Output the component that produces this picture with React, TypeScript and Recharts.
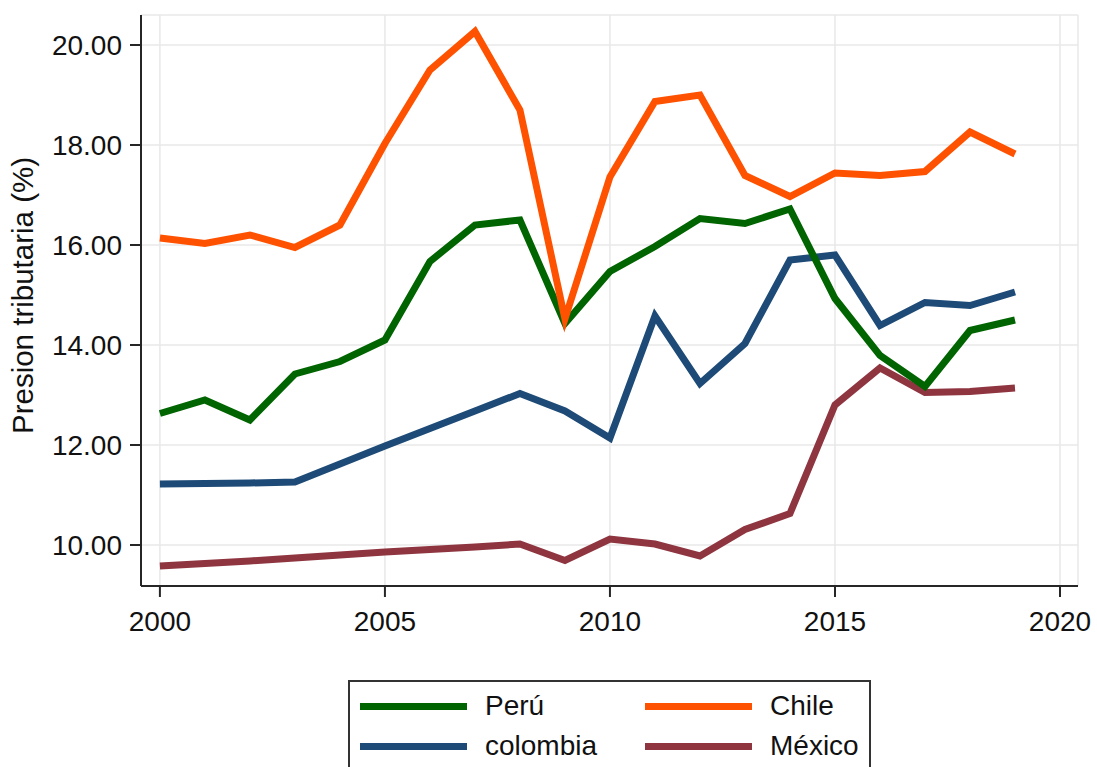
import { LineChart, Line, XAxis, YAxis, CartesianGrid, Legend, Label } from 'recharts';

// Tax burden (% of GDP), 2000-2019
const years = [2000, 2001, 2002, 2003, 2004, 2005, 2006, 2007, 2008, 2009, 2010, 2011, 2012, 2013, 2014, 2015, 2016, 2017, 2018, 2019];
const peru = [12.63, 12.9, 12.5, 13.42, 13.67, 14.1, 15.67, 16.4, 16.5, 14.43, 15.47, 15.97, 16.53, 16.43, 16.72, 14.93, 13.79, 13.17, 14.29, 14.5];
const chile = [16.14, 16.03, 16.2, 15.95, 16.4, 18.03, 19.5, 20.27, 18.7, 14.52, 17.36, 18.87, 19.0, 17.39, 16.97, 17.44, 17.39, 17.47, 18.26, 17.82];
const colombia = [11.22, 11.23, 11.24, 11.26, 11.62, 11.98, 12.33, 12.68, 13.03, 12.68, 12.14, 14.58, 13.23, 14.03, 15.7, 15.8, 14.39, 14.85, 14.79, 15.06];
const mexico = [9.58, 9.63, 9.68, 9.74, 9.8, 9.86, 9.91, 9.96, 10.02, 9.69, 10.12, 10.02, 9.78, 10.31, 10.63, 12.8, 13.54, 13.05, 13.07, 13.14];

const xTicks = [2000, 2005, 2010, 2015, 2020];
const yTicks = [10, 12, 14, 16, 18, 20];

const series = [
    { key: 'peru', name: 'Perú', color: '#006400' },
    { key: 'chile', name: 'Chile', color: '#ff5200' },
    { key: 'colombia', name: 'colombia', color: '#1d4a76' },
    { key: 'mexico', name: 'México', color: '#8e3540' },
];

// later entries are painted on top
const drawOrder = ['colombia', 'mexico', 'peru', 'chile'];

const chartData = years.map((year, i) => ({
    year,
    peru: peru[i],
    chile: chile[i],
    colombia: colombia[i],
    mexico: mexico[i],
}));

const FONT = '"Liberation Sans", Arial, Helvetica, sans-serif';
const AXIS = '#262626';

function YTitle({ viewBox }: any) {
    const cy = viewBox.y + viewBox.height / 2 - 5;
    return (
        <text
            x={33}
            y={cy}
            transform={`rotate(-90, 33, ${cy})`}
            textAnchor="middle"
            fontSize={29.5}
            fill="#111"
            fontFamily={FONT}
        >
            Presion tributaria (%)
        </text>
    );
}

function LegendBox() {
    return (
        <div
            style={{
                position: 'relative',
                width: 523,
                height: 100,
                border: '2px solid #333',
                boxSizing: 'border-box',
                background: '#fff',
                fontFamily: FONT,
                fontSize: 28,
                color: '#111',
            }}
        >
            {series.map((s, i) => {
                const col = i % 2;
                const row = Math.floor(i / 2);
                return (
                    <div
                        key={s.key}
                        style={{
                            position: 'absolute',
                            left: 10 + col * 285,
                            top: 24 + row * 40 - 19,
                            height: 38,
                            display: 'flex',
                            alignItems: 'center',
                            whiteSpace: 'nowrap',
                        }}
                    >
                        <div style={{ width: 107, height: 7, background: s.color }} />
                        <span style={{ marginLeft: 18, lineHeight: '38px' }}>{s.name}</span>
                    </div>
                );
            })}
        </div>
    );
}

export default function App() {
    return (
        <div style={{ position: 'absolute', left: 0, top: 0, background: '#fff' }}>
            <LineChart
                width={1097}
                height={767}
                data={chartData}
                margin={{ top: 15, right: 19, bottom: 121, left: 0 }}
                style={{ fontFamily: FONT }}
            >
                <CartesianGrid stroke="#e8e8e8" strokeWidth={1.5} />
                <XAxis
                    dataKey="year"
                    type="number"
                    domain={[1999.58, 2020.4]}
                    ticks={xTicks}
                    allowDataOverflow
                    height={60}
                    tickSize={11}
                    tickMargin={14}
                    axisLine={{ stroke: AXIS, strokeWidth: 2 }}
                    tickLine={{ stroke: AXIS, strokeWidth: 2 }}
                    tick={{ fontSize: 28, fill: '#111', fontFamily: FONT }}
                />
                <YAxis
                    type="number"
                    domain={[9.18, 20.6]}
                    ticks={yTicks}
                    allowDataOverflow
                    width={141}
                    tickSize={11}
                    tickMargin={8}
                    tickFormatter={(v: number) => v.toFixed(2)}
                    axisLine={{ stroke: AXIS, strokeWidth: 2 }}
                    tickLine={{ stroke: AXIS, strokeWidth: 2 }}
                    tick={{ fontSize: 28, fill: '#111', fontFamily: FONT }}
                >
                    <Label content={<YTitle />} />
                </YAxis>
                {drawOrder.map((key) => {
                    const s = series.find((d) => d.key === key)!;
                    return (
                        <Line
                            key={s.key}
                            type="linear"
                            dataKey={s.key}
                            name={s.name}
                            stroke={s.color}
                            strokeWidth={7}
                            dot={false}
                            activeDot={false}
                            isAnimationActive={false}
                        />
                    );
                })}
                <Legend
                    layout="vertical"
                    align="center"
                    verticalAlign="middle"
                    content={<LegendBox />}
                    wrapperStyle={{ left: 348, top: 680, width: 523, height: 100 }}
                />
            </LineChart>
        </div>
    );
}
